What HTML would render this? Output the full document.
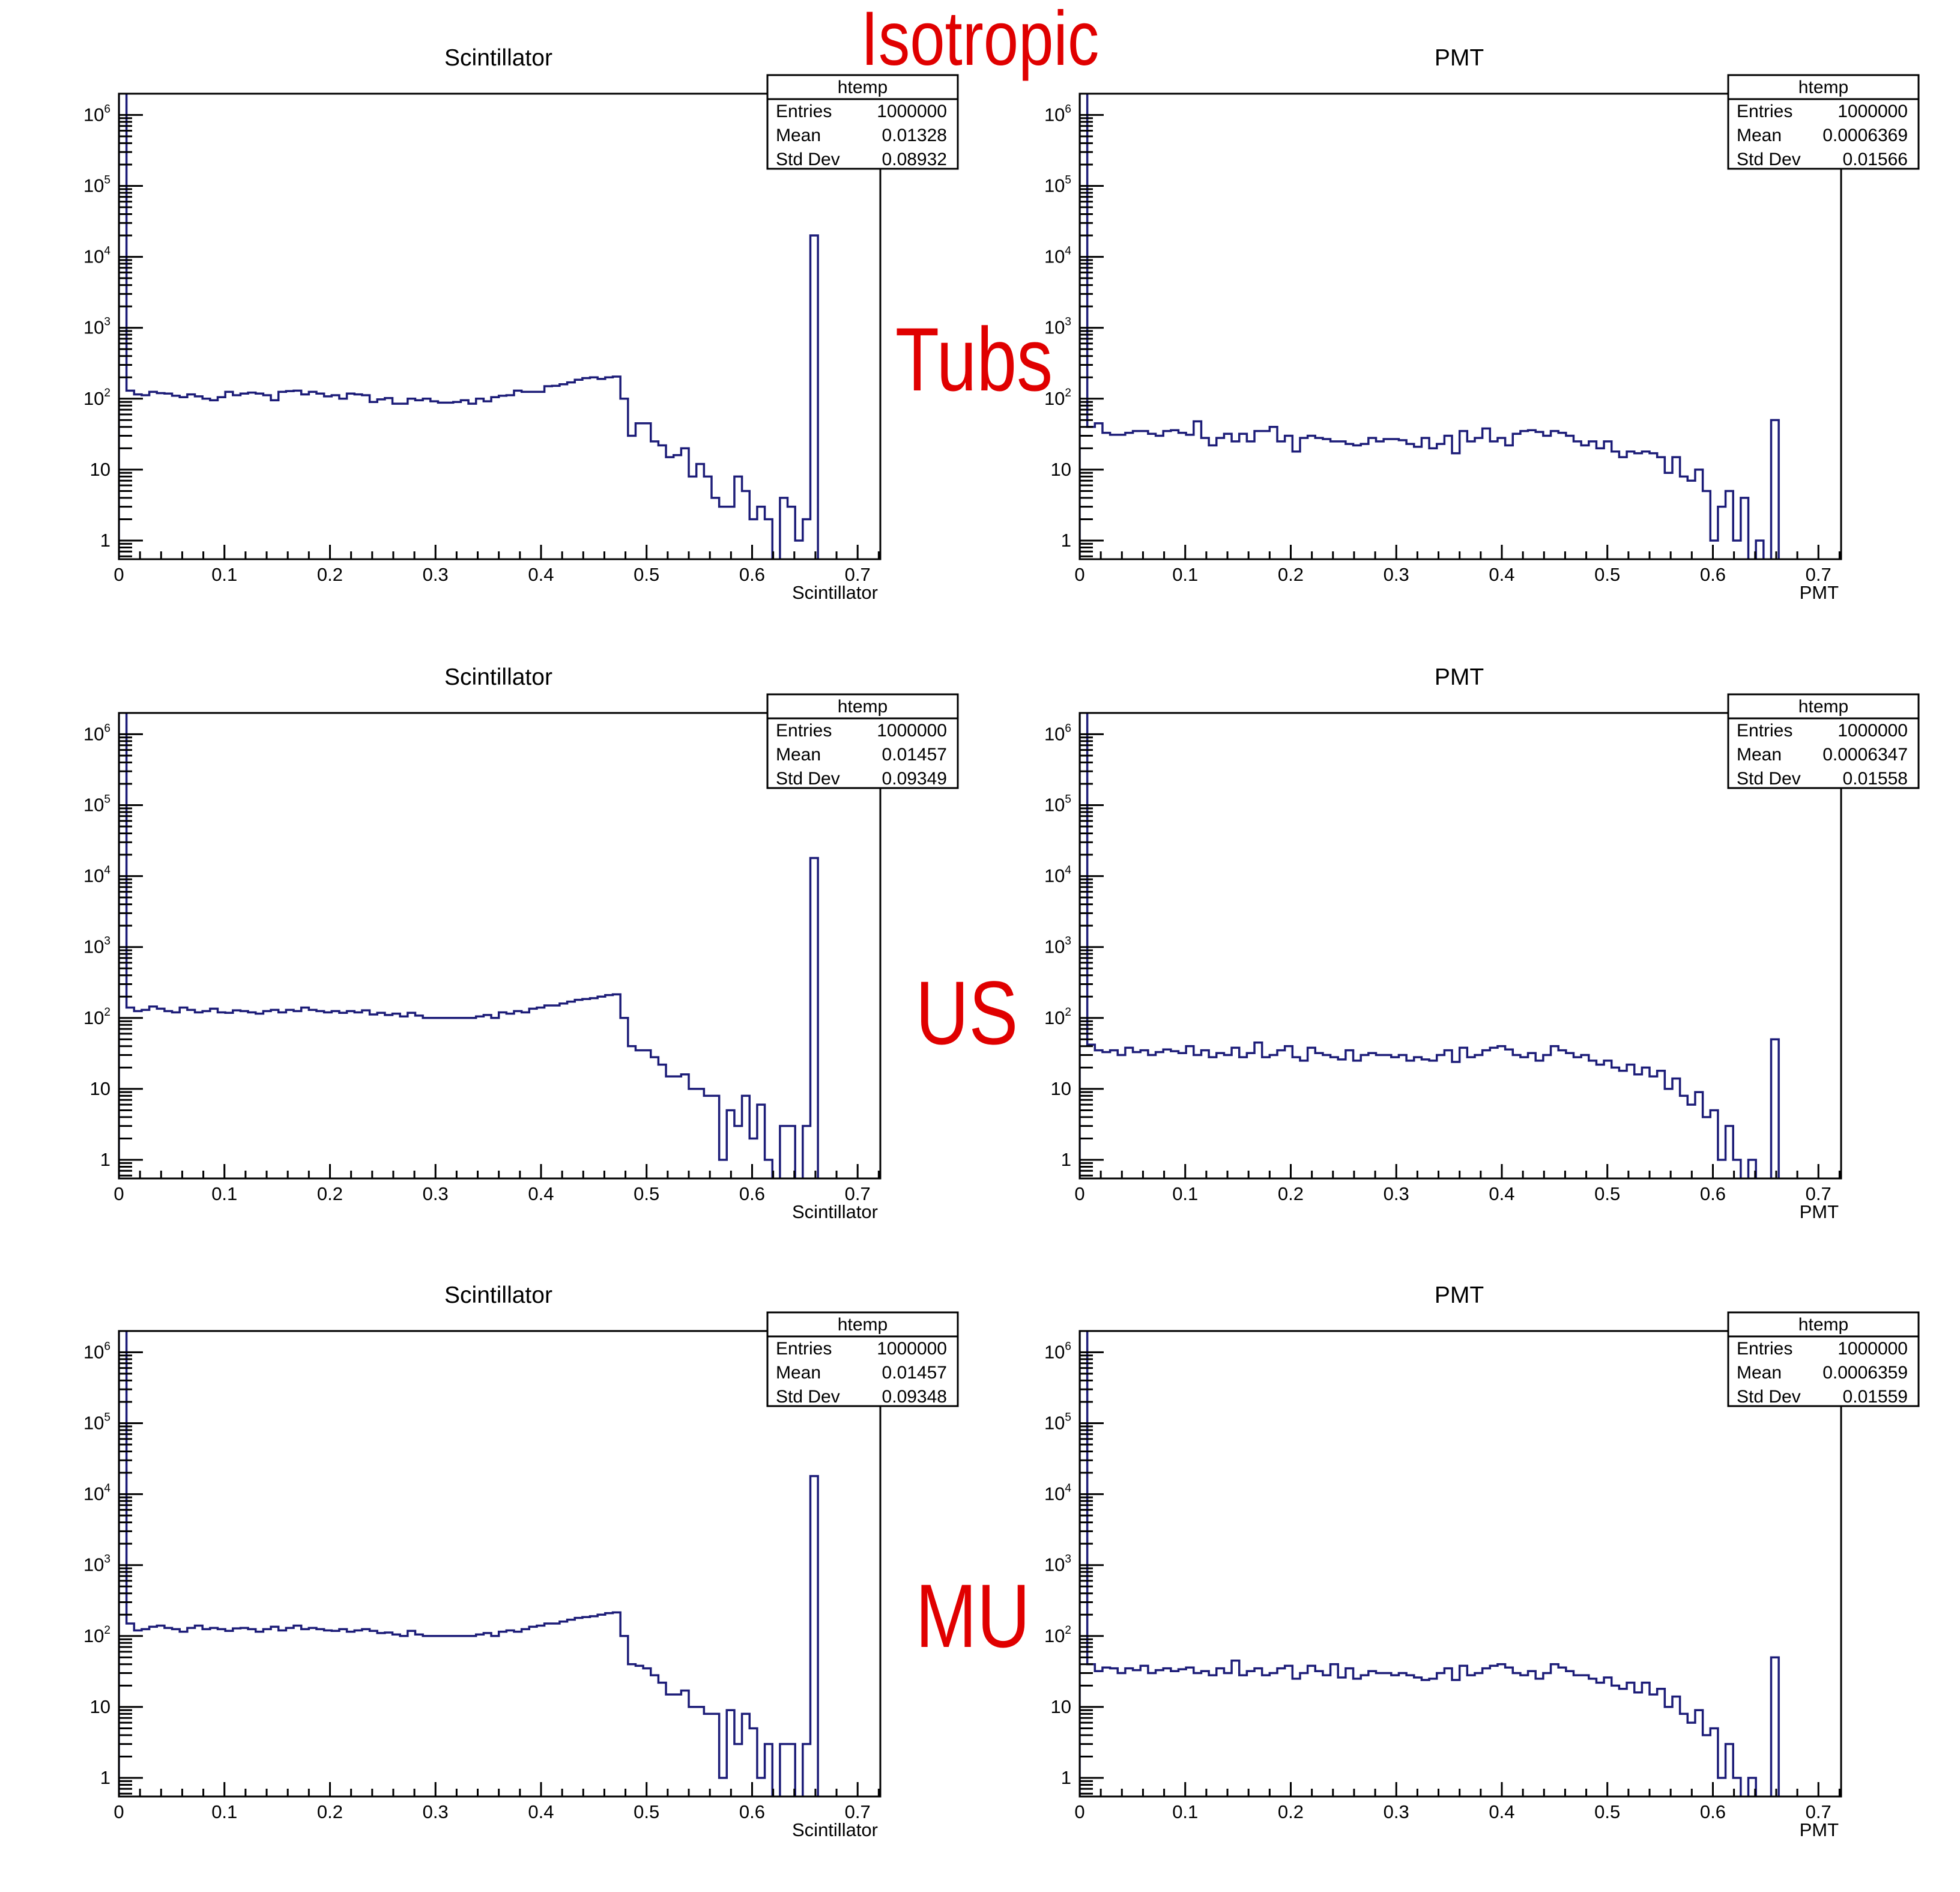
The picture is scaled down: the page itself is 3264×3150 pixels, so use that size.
<!DOCTYPE html>
<html><head><meta charset="utf-8"><style>
html,body{margin:0;padding:0;background:#fff}
svg{display:block}
.red{font-family:"Liberation Sans Narrow","Liberation Sans",sans-serif;fill:#e00000;font-stretch:condensed}
</style></head><body>
<svg id="c" width="3264" height="3150" viewBox="0 0 3264 3150" xmlns="http://www.w3.org/2000/svg">
<text class="red" x="1632" y="108" font-size="128" text-anchor="middle" transform="translate(1632 0) scale(0.82 1) translate(-1632 0)">Isotropic</text>
<text class="red" x="1622" y="650" font-size="150" text-anchor="middle" transform="translate(1622 0) scale(0.8 1) translate(-1622 0)">Tubs</text>
<text class="red" x="1610" y="1738" font-size="150" text-anchor="middle" transform="translate(1610 0) scale(0.82 1) translate(-1610 0)">US</text>
<text class="red" x="1620" y="2742" font-size="150" text-anchor="middle" transform="translate(1620 0) scale(0.82 1) translate(-1620 0)">MU</text>
</svg>
<script>
const NS="http://www.w3.org/2000/svg";
const svg=document.getElementById('c');
const xMax=0.7215, binW=0.0072, nBins=100;
const yTicks=[1,10,100,1000,10000,100000,1000000];
const xTicks=[0,0.1,0.2,0.3,0.4,0.5,0.6,0.7];
const xTickLabels=["0","0.1","0.2","0.3","0.4","0.5","0.6","0.7"];
const statLabels=["Entries","Mean","Std Dev"];

const scint1=[5000000,
130,115,112,125,120, 118,110,105,115,108, 100,95,105,125,112, 118,122,118,112,95,
125,128,130,115,125, 118,108,112,100,118, 115,112,90,98,102, 85,85,100,95,100,
92,88,88,90,95, 85,100,92,105,110, 112,130,125,125,125, 150,152,160,170,185, 195,200,190,200,205,
100,30,45,45,25, 22,15,16,20,8, 12,8,4,3,3, 8,5,2,3,2, 0,4,3,1,2,
20000,0,0,0,0,0,0,0,0];
const scint2=[5000000,
140,125,130,145,135, 125,120,140,130,120, 125,135,120,118,128, 125,120,115,125,130,
120,130,125,140,130, 125,120,125,118,125, 120,128,112,118,110, 115,105,118,108,100,
100,100,100,100,100, 100,105,110,100,120, 115,125,120,135,140, 150,150,160,170,180, 185,190,200,210,215,
100,40,35,35,28, 22,15,15,16,10, 10,8,8,1,5, 3,8,2,6,1, 0,3,3,0,3,
18000,0,0,0,0,0,0,0,0];
const scint3=[5000000,
150,120,125,135,140, 130,125,115,130,140, 125,130,125,118,128, 130,125,115,125,135,
120,130,140,125,130, 125,120,118,125,115, 120,125,118,110,112, 105,100,118,105,100,
100,100,100,100,100, 100,105,110,100,115, 120,115,125,135,140, 150,150,160,170,180, 185,190,200,210,215,
100,40,38,35,28, 22,15,15,17,10, 10,8,8,1,9, 3,8,5,1,3, 0,3,3,0,3,
18000,0,0,0,0,0,0,0,0];
const pmt1=[5000000,
40,45,33,31,31, 33,35,35,32,30, 35,36,33,31,48, 28,22,28,32,25, 32,25,35,35,40,
25,30,18,28,30, 28,27,25,25,23, 22,23,28,25,27, 27,26,23,21,28, 20,23,30,17,35,
25,28,38,25,28, 22,32,35,36,34, 30,35,33,30,25,
22,25,20,25,18, 15,18,17,18,17, 15,9,15,8,7, 10,5,1,3,5, 1,4,0,1,0,
50,0,0,0,0,0,0,0,0];
const pmt2=[5000000,
42,35,33,35,30, 38,33,35,30,33, 36,34,32,40,30, 35,28,32,30,38, 28,32,45,28,30,
35,40,28,25,38, 32,30,28,26,35, 25,30,32,30,30, 28,30,25,28,26, 25,30,35,24,38,
28,30,35,38,40, 36,30,28,32,25, 30,40,35,32,28,
30,25,22,25,20, 18,22,16,20,15, 18,10,14,8,6, 9,4,5,1,3, 1,0,1,0,0,
50,0,0,0,0,0,0,0,0];
const pmt3=[5000000,
40,32,36,35,30, 35,33,38,30,33, 35,32,34,36,30, 32,28,35,30,45, 28,32,35,28,30,
35,38,25,30,38, 32,28,40,26,35, 25,28,32,30,30, 28,30,28,26,24, 25,30,35,24,38,
28,30,35,38,40, 36,30,28,32,25, 30,40,36,32,28,
28,25,22,26,20, 18,22,16,22,15, 18,10,14,8,6, 9,4,5,1,3, 1,0,1,0,0,
50,0,0,0,0,0,0,0,0];

const panels=[
 {x0:198,y0:156,data:scint1,title:"Scintillator",xt:"Scintillator",stats:["1000000","0.01328","0.08932"]},
 {x0:1798,y0:156,data:pmt1,title:"PMT",xt:"PMT",stats:["1000000","0.0006369","0.01566"]},
 {x0:198,y0:1187,data:scint2,title:"Scintillator",xt:"Scintillator",stats:["1000000","0.01457","0.09349"]},
 {x0:1798,y0:1187,data:pmt2,title:"PMT",xt:"PMT",stats:["1000000","0.0006347","0.01558"]},
 {x0:198,y0:2216,data:scint3,title:"Scintillator",xt:"Scintillator",stats:["1000000","0.01457","0.09348"]},
 {x0:1798,y0:2216,data:pmt3,title:"PMT",xt:"PMT",stats:["1000000","0.0006359","0.01559"]}
];
const W=1268,H=775,DEC=118.1,ONE=744;
function mk(tag,attrs,parent){const e=document.createElementNS(NS,tag);for(const k in attrs)e.setAttribute(k,attrs[k]);(parent||svg).appendChild(e);return e;}

panels.forEach((p,pi)=>{
 const g=mk('g',{});
 
 
 const X=v=>p.x0+v/xMax*W;
 const Y=v=>{if(v<=0)return p.y0+H+10;return p.y0+ONE-Math.log10(v)*DEC;};
 const cid='clip'+pi;
 const cp=mk('clipPath',{id:cid},g);mk('rect',{x:p.x0,y:p.y0,width:W,height:H},cp);
 let d='M'+X(0)+' '+(p.y0+H);
 p.data.forEach((v,i)=>{const y=Y(v);d+=' L'+X(i*binW)+' '+y+' L'+X((i+1)*binW)+' '+y;});
 d+=' L'+X(nBins*binW)+' '+(p.y0+H);
 const hp=mk('path',{d:d,fill:'none',stroke:'#1c1c78','stroke-width':3.5,'clip-path':'url(#'+cid+')'},g);
 
 
 const fr=mk('rect',{x:p.x0,y:p.y0,width:W,height:H,fill:'none',stroke:'#000','stroke-width':3},g);
 
 
 const yb=p.y0+H;
 for(let k=0;k<=36;k++){const v=k*0.02;if(v>xMax)break;const maj=k%5===0;
  mk('line',{x1:X(v),x2:X(v),y1:yb,y2:yb-(maj?24:13),stroke:'#000','stroke-width':3},g);}
 xTicks.forEach((v,i)=>{const t=mk('text',{x:X(v),y:yb+36,'font-size':31,'font-family':'Liberation Sans, sans-serif','text-anchor':'middle'},g);t.textContent=xTickLabels[i];
  
  });
 for(let e=-1;e<=6;e++){for(let m=1;m<=9;m++){const v=m*Math.pow(10,e);const y=Y(v);if(y<p.y0||y>yb)continue;
  mk('line',{x1:p.x0,x2:p.x0+(m===1?40:22),y1:y,y2:y,stroke:'#000','stroke-width':3},g);}}
 yTicks.forEach((v,i)=>{const y=Y(v);const t=mk('text',{x:p.x0-14,y:y+10,'font-size':31,'font-family':'Liberation Sans, sans-serif','text-anchor':'end'},g);
  if(i===0)t.textContent='1';else if(i===1)t.textContent='10';else{t.textContent='10';const s=mk('tspan',{dy:-14,'font-size':19},t);s.textContent=String(i);}
  
  });
 const tt=mk('text',{x:p.x0+632,y:p.y0-47,'font-size':39,'font-family':'Liberation Sans, sans-serif','text-anchor':'middle'},g);tt.textContent=p.title;
 
 
 const xt=mk('text',{x:p.x0+W-4,y:yb+66,'font-size':31,'font-family':'Liberation Sans, sans-serif','text-anchor':'end'},g);xt.textContent=p.xt;
 
 
 const bx=p.x0+W-188,by=p.y0-31,bw=317,bh=156;
 const sb=mk('g',{},g);
 
 
 mk('rect',{x:bx,y:by,width:bw,height:bh,fill:'#fff',stroke:'#000','stroke-width':3},sb);
 mk('line',{x1:bx,x2:bx+bw,y1:by+40,y2:by+40,stroke:'#000','stroke-width':3},sb);
 const h=mk('text',{x:bx+bw/2,y:by+30,'font-size':30,'font-family':'Liberation Sans, sans-serif','text-anchor':'middle'},sb);h.textContent='htemp';
 statLabels.forEach((l,i)=>{const yy=by+70+i*40;
  const a=mk('text',{x:bx+14,y:yy,'font-size':30,'font-family':'Liberation Sans, sans-serif'},sb);a.textContent=l;
  const b=mk('text',{x:bx+bw-18,y:yy,'font-size':30,'font-family':'Liberation Sans, sans-serif','text-anchor':'end'},sb);b.textContent=p.stats[i];});
});
</script>
</body></html>
